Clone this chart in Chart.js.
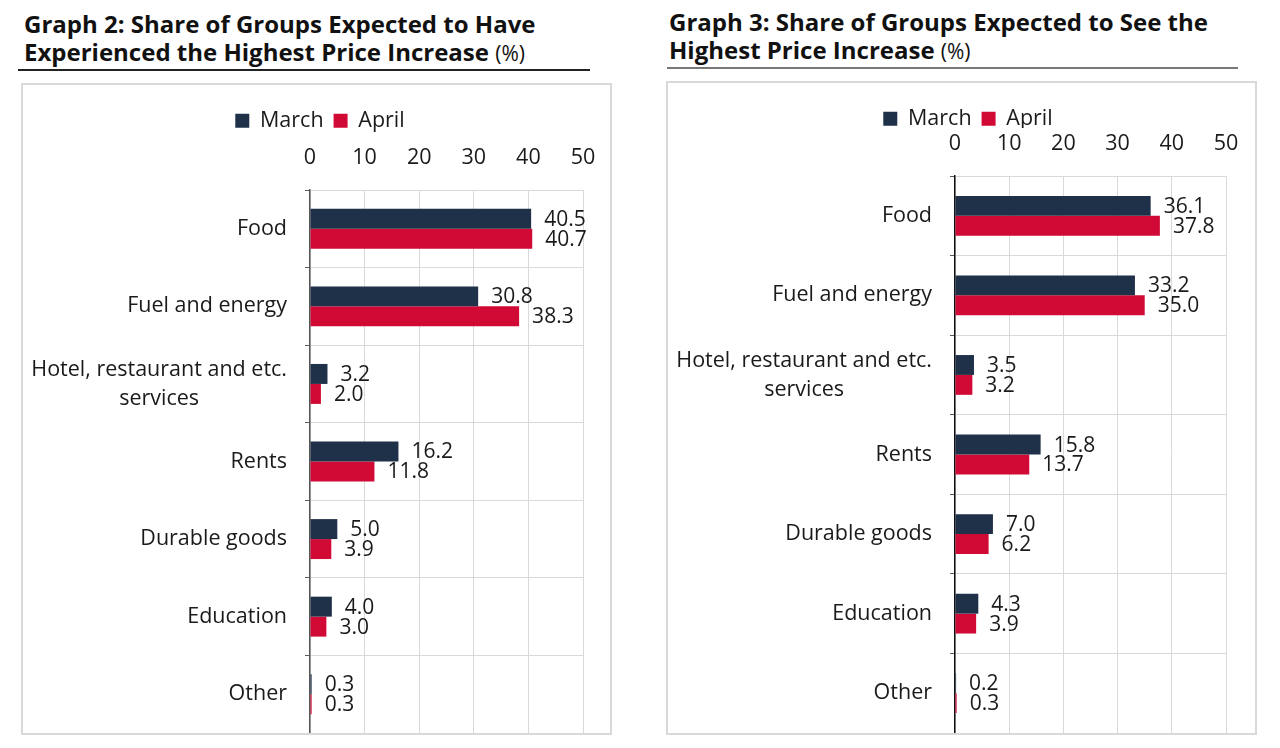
<!DOCTYPE html>
<html>
<head>
<meta charset="utf-8">
<script src="https://cdn.jsdelivr.net/npm/chart.js@4/dist/chart.umd.min.js"></script>
<style>
	body { margin: 0; width: 1280px; height: 748px; background: #fff; font-family: "Open Sans", sans-serif; position: relative; overflow: hidden; }
	.title { position: absolute; font-weight: 700; font-size: 24px; line-height: 28px; color: #111; white-space: nowrap; }
	.title span { font-weight: 400; font-size: 21px; }
	.rule { position: absolute; height: 2px; }
	.box { position: absolute; border: 2px solid #d9d9d9; box-sizing: border-box; }
	.box canvas { position: absolute; left: 0; top: 0; }
</style>
</head>
<body>
<div class="title" style="left:24px; top:10px;">Graph 2: Share of Groups Expected to Have<br>Experienced the Highest Price Increase <span>(%)</span></div>
<div class="rule" style="left:18px; top:69px; width:572px; background:#222;"></div>
<div class="box" style="left:21px; top:83px; width:591px; height:652px;"><canvas id="chart2"></canvas></div>

<div class="title" style="left:669px; top:8px;">Graph 3: Share of Groups Expected to See the<br>Highest Price Increase <span>(%)</span></div>
<div class="rule" style="left:667px; top:67px; width:571px; background:#777;"></div>
<div class="box" style="left:666px; top:81px; width:591px; height:654px;"><canvas id="chart3"></canvas></div>

<script>
	let categories = ["Food", "Fuel and energy", ["Hotel, restaurant and etc.", "services"], "Rents", "Durable goods", "Education", "Other"];
	let seriesNames = ["March", "April"];
	let march2 = [40.5, 30.8, 3.2, 16.2, 5.0, 4.0, 0.3];
	let april2 = [40.7, 38.3, 2.0, 11.8, 3.9, 3.0, 0.3];
	let march3 = [36.1, 33.2, 3.5, 15.8, 7.0, 4.3, 0.2];
	let april3 = [37.8, 35.0, 3.2, 13.7, 6.2, 3.9, 0.3];
	let xMin = 0;
	let xMax = 50;
	let xStep = 10;

	const navy = '#1f3049';
	const red = '#d10a35';
	const textColor = '#1a1a1a';
	const font = "'Open Sans', sans-serif";
	const fontSize = 21.5;

	// category labels, right aligned block, lines centred inside it
	let categoryLabels = {
		id: 'categoryLabels',
		afterDraw(chart) {
			let ctx = chart.ctx;
			let yScale = chart.scales.y;
			ctx.save();
			ctx.font = fontSize + 'px ' + font;
			ctx.fillStyle = textColor;
			ctx.textBaseline = 'middle';
			ctx.textAlign = 'center';
			categories.forEach((label, i) => {
				let lines = Array.isArray(label) ? label : [label];
				let w = Math.max(...lines.map(l => ctx.measureText(l).width));
				let cx = chart.chartArea.left - 23 - w / 2;
				let cy = yScale.getPixelForValue(i);
				let lh = 29;
				lines.forEach((l, j) => {
					ctx.fillText(l, cx, cy + (j - (lines.length - 1) / 2) * lh);
				});
			});
			ctx.restore();
		}
	};

	let valueLabels = {
		id: 'valueLabels',
		afterDatasetsDraw(chart) {
			let ctx = chart.ctx;
			ctx.save();
			ctx.font = '21px ' + font;
			ctx.fillStyle = textColor;
			ctx.textBaseline = 'middle';
			ctx.textAlign = 'left';
			chart.data.datasets.forEach((ds, d) => {
				chart.getDatasetMeta(d).data.forEach((bar, i) => {
					ctx.fillText(ds.data[i].toFixed(1), bar.x + 13, bar.y + 1);
				});
			});
			ctx.restore();
		}
	};

	let createChart = (id, march, april, opts) => {
		let canvas = document.getElementById(id);
		canvas.width = opts.width;
		canvas.height = opts.height;
		canvas.style.width = opts.width + 'px';
		canvas.style.height = opts.height + 'px';

		let data = {
			labels: categories.map(c => Array.isArray(c) ? c.join(' ') : c),
			datasets: [{
				label: seriesNames[0],
				backgroundColor: navy,
				data: march,
			}, {
				label: seriesNames[1],
				backgroundColor: red,
				data: april,
			}]
		};

		let config = {
			type: 'bar',
			data: data,
			options: {
				indexAxis: 'y',
				responsive: false,
				animation: false,
				devicePixelRatio: 1,
				categoryPercentage: opts.catPct,
				barPercentage: 1,
				layout: { padding: { top: opts.padTop, right: opts.padRight, bottom: 0, left: opts.padLeft } },
				plugins: {
					legend: {
						position: 'top',
						maxHeight: opts.legendHeight,
						labels: {
							font: { family: font, size: fontSize },
							color: textColor,
							boxWidth: 14,
							boxHeight: 14,
							padding: 10,
						}
					},
					tooltip: { enabled: false },
				},
				scales: {
					x: {
						position: 'top',
						min: xMin,
						max: xMax,
						ticks: {
							stepSize: xStep,
							font: { family: font, size: fontSize },
							color: textColor,
							padding: 0,
						},
						// invisible tick marks give the gap between labels and plot
						grid: { color: '#d9d9d9', lineWidth: 1, drawTicks: true, tickLength: opts.tickGap, tickColor: 'rgba(0,0,0,0)' },
						border: { display: false },
						afterFit: s => { s.height = opts.xHeight; },
					},
					y: {
						ticks: { display: false },
						grid: { color: '#d9d9d9', lineWidth: 1, tickLength: 5, tickColor: '#595959', offset: true },
						border: { display: true, color: opts.axisColor, width: 1.5 },
						afterFit: s => { s.width = 287 - opts.padLeft; },
					}
				}
			},
			plugins: [categoryLabels, valueLabels]
		};

		return new Chart(canvas, config);
	};

	createChart('chart2', march2, april2, {
		width: 587, height: 648, padTop: 15, padRight: 27, padLeft: 34, legendHeight: 41, xHeight: 49, tickGap: 19,
		catPct: 0.515, axisColor: '#555'
	});
	createChart('chart3', march3, april3, {
		width: 587, height: 650, padTop: 15, padRight: 29, padLeft: 42, legendHeight: 30, xHeight: 48, tickGap: 19,
		catPct: 0.5, axisColor: '#111'
	});
</script>
</body>
</html>
